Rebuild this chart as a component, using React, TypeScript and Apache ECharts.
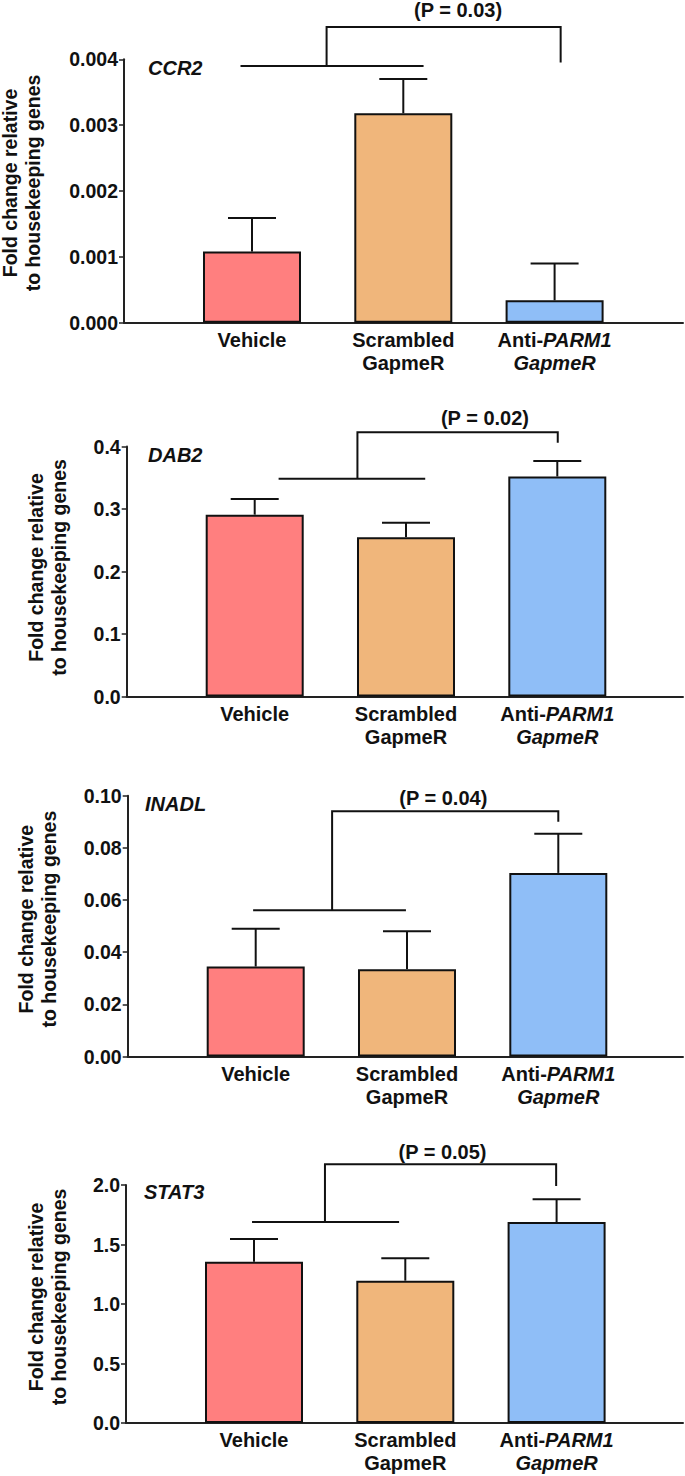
import React, { useEffect, useRef } from 'react';
import * as echarts from 'echarts';

// ---------- data ----------
const categories = ['Vehicle', 'Scrambled\nGapmeR', 'Anti-PARM1\nGapmeR'];
const categoryRich = ['{n|Vehicle}', '{n|Scrambled}\n{n|GapmeR}', '{n|Anti-}{i|PARM1}\n{i|GapmeR}'];
const barColors = ['#FF7F7F', '#F0B67B', '#8FBEF7'];

const genes = ['CCR2', 'DAB2', 'INADL', 'STAT3'];

const ccr2Mean = [0.00108, 0.00318, 0.00034];
const ccr2Upper = [0.00159, 0.0037, 0.0009];
const dab2Mean = [0.291, 0.255, 0.352];
const dab2Upper = [0.316, 0.278, 0.377];
const inadlMean = [0.0345, 0.0335, 0.0704];
const inadlUpper = [0.049, 0.048, 0.0854];
const stat3Mean = [1.355, 1.196, 1.689];
const stat3Upper = [1.546, 1.384, 1.88];

const means = [ccr2Mean, dab2Mean, inadlMean, stat3Mean];
const uppers = [ccr2Upper, dab2Upper, inadlUpper, stat3Upper];

const yMaxes = [0.004, 0.4, 0.1, 2.0];
const yIntervals = [0.001, 0.1, 0.02, 0.5];
const yDecimals = [3, 1, 2, 1];

const pLabels = ['(P = 0.03)', '(P = 0.02)', '(P = 0.04)', '(P = 0.05)'];
// bracket: [lowX0, lowX1, lowY, stemX, topY, dropX, dropEndY, pX, pY]
const ccr2Bracket = [-0.076, 1.134, 0.0039, 0.493, 0.00449, 2.04, 0.00395, 1.362, 0.00475];
const dab2Bracket = [0.158, 1.127, 0.3485, 0.679, 0.4227, 2.003, 0.406, 1.522, 0.446];
const inadlBracket = [-0.017, 0.993, 0.0561, 0.505, 0.094, 2.0, 0.09, 1.24, 0.0992];
const stat3Bracket = [-0.013, 0.959, 1.689, 0.469, 2.174, 1.997, 1.992, 1.246, 2.28];
const brackets = [ccr2Bracket, dab2Bracket, inadlBracket, stat3Bracket];

const yTitle = 'Fold change relative\nto housekeeping genes';

// ---------- layout ----------
const gridLefts = [124, 126.7, 127.7, 126];
const gridTops = [59.3, 446.5, 795.7, 1185];
const gridHeights = [263.4, 250, 260.8, 238];
const axisRightPx = 683;
const bandPx = 151.3;
const xMin = -0.846;
const nameGaps = [79, 55.5, 66.5, 55];
const namePads = [16, 8, 14, 14];
const geneX = [148, 148, 145, 144];
const geneY = [68, 455, 804.3, 1191.7];

const FONT = '"Liberation Sans", Arial, Helvetica, sans-serif';
const INK = '#111111';

export default function App() {
  const ref = useRef<HTMLDivElement>(null);

  useEffect(() => {
    document.body.style.margin = '0';
    if (!ref.current) return;
    const chart = echarts.init(ref.current, undefined, { renderer: 'svg' });

    const grids = gridLefts.map((l, i) => ({
      left: l,
      top: gridTops[i],
      width: axisRightPx - l,
      height: gridHeights[i],
      containLabel: false,
      outerBoundsMode: 'none',
    }));

    const xAxes = gridLefts.map((l, i) => ({
      gridIndex: i,
      type: 'value',
      min: xMin,
      max: xMin + (axisRightPx - l) / bandPx,
      axisLine: { show: true, onZero: false, lineStyle: { color: '#222', width: 2 } },
      axisTick: { show: false },
      splitLine: { show: false },
      axisLabel: {
        customValues: [0, 1, 2],
        formatter: (v: number) => categoryRich[Math.round(v)] ?? '',
        margin: 5.5,
        color: INK,
        rich: {
          n: { fontFamily: FONT, fontSize: 20, fontWeight: 'bold', fontStyle: 'normal', lineHeight: 23, color: INK },
          i: { fontFamily: FONT, fontSize: 20, fontWeight: 'bold', fontStyle: 'italic', lineHeight: 23, color: INK },
        },
      },
    }));

    const yAxes = yMaxes.map((m, i) => ({
      gridIndex: i,
      type: 'value',
      min: 0,
      max: m,
      interval: yIntervals[i],
      axisLine: { show: true, onZero: false, lineStyle: { color: '#222', width: 2 } },
      axisTick: { show: true, length: 5, lineStyle: { color: '#222', width: 1.5 } },
      splitLine: { show: false },
      axisLabel: {
        formatter: (v: number) => v.toFixed(yDecimals[i]),
        fontFamily: FONT,
        fontSize: 19.5,
        fontWeight: 'bold',
        color: INK,
        margin: 6,
      },
      name: yTitle,
      nameLocation: 'middle',
      nameRotate: 90,
      nameGap: nameGaps[i],
      nameMoveOverlap: false,
      nameTextStyle: {
        fontFamily: FONT,
        fontSize: 19.5,
        fontWeight: 'bold',
        lineHeight: 23.5,
        color: INK,
        padding: [0, 0, 0, namePads[i]],
      },
    }));

    const series: any[] = [];
    means.forEach((mv, i) => {
      series.push({
        type: 'bar',
        xAxisIndex: i,
        yAxisIndex: i,
        barWidth: 98,
        itemStyle: { borderColor: INK, borderWidth: 2 },
        data: mv.map((v, j) => ({ value: [j, v], itemStyle: { color: barColors[j] } })),
        z: 2,
      });
      series.push({
        type: 'custom',
        xAxisIndex: i,
        yAxisIndex: i,
        clip: false,
        z: 3,
        data: mv.map((v, j) => [j, v, uppers[i][j]]),
        renderItem: (_p: any, api: any) => {
          const x = api.value(0);
          const p0 = api.coord([x, api.value(1)]);
          const p1 = api.coord([x, api.value(2)]);
          const st = { stroke: INK, lineWidth: 2 };
          return {
            type: 'group',
            children: [
              { type: 'line', shape: { x1: p0[0], y1: p0[1], x2: p1[0], y2: p1[1] }, style: st },
              { type: 'line', shape: { x1: p1[0] - 24, y1: p1[1], x2: p1[0] + 24, y2: p1[1] }, style: st },
            ],
          };
        },
      });
      series.push({
        type: 'custom',
        xAxisIndex: i,
        yAxisIndex: i,
        clip: false,
        z: 4,
        data: [brackets[i]],
        renderItem: (_p: any, api: any) => {
          const v = (k: number) => api.value(k);
          const a = api.coord([v(0), v(2)]);
          const b = api.coord([v(1), v(2)]);
          const s0 = api.coord([v(3), v(2)]);
          const s1 = api.coord([v(3), v(4)]);
          const d0 = api.coord([v(5), v(4)]);
          const d1 = api.coord([v(5), v(6)]);
          const pt = api.coord([v(7), v(8)]);
          const st = { stroke: INK, lineWidth: 2, fill: 'none' };
          return {
            type: 'group',
            children: [
              { type: 'line', shape: { x1: a[0], y1: a[1], x2: b[0], y2: b[1] }, style: st },
              { type: 'polyline', shape: { points: [s0, s1, d0, d1] }, style: st },
              {
                type: 'text',
                x: pt[0],
                y: pt[1],
                style: {
                  text: pLabels[i],
                  fill: INK,
                  font: `bold 20px ${FONT}`,
                  align: 'center',
                  verticalAlign: 'middle',
                  textAlign: 'center',
                  textVerticalAlign: 'middle',
                },
              },
            ],
          };
        },
      });
    });

    const titles = genes.map((g, i) => ({
      text: g,
      left: geneX[i],
      top: geneY[i] - 11,
      padding: 0,
      textStyle: {
        fontFamily: FONT,
        fontSize: 20,
        fontWeight: 'bold',
        fontStyle: 'italic',
        lineHeight: 22,
        color: INK,
      },
    }));

    chart.setOption({
      animation: false,
      backgroundColor: '#ffffff',
      title: titles,
      grid: grids,
      xAxis: xAxes,
      yAxis: yAxes,
      series,
    } as any);

    return () => chart.dispose();
  }, []);

  return <div ref={ref} style={{ width: 685, height: 1476 }} />;
}
